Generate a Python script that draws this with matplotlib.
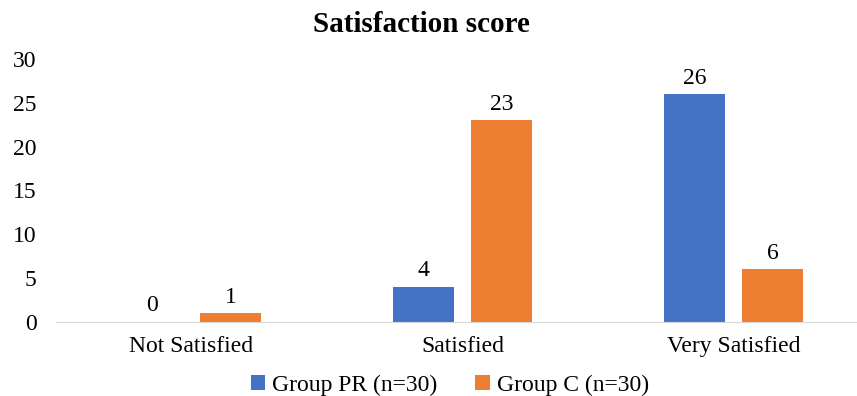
import numpy as np
import matplotlib.pyplot as plt

plt.rcParams['font.family'] = ['Liberation Serif', 'DejaVu Serif']

categories = ['Not Satisfied', 'Satisfied', 'Very Satisfied']
group_pr = [0, 4, 26]
group_c = [1, 23, 6]
series_names = ['Group PR (n=30)', 'Group C (n=30)']

fig = plt.figure(figsize=(8.57, 3.96), dpi=100)
ax = fig.add_axes([56 / 857, 74 / 396, 813 / 857, 263 / 396])

x = np.arange(len(categories))
w = 0.225
off = 0.144
b1 = ax.bar(x - off, group_pr, w, color='#4472C4', label=series_names[0])
b2 = ax.bar(x + off, group_c, w, color='#ED7D31', label=series_names[1])

for bars, vals in ((b1, group_pr), (b2, group_c)):
    for r, v in zip(bars, vals):
        ax.annotate(str(v), (r.get_x() + r.get_width() / 2, v), xytext=(0, 4),
                    textcoords='offset points', ha='center', va='bottom', fontsize=17)

ax.set_xlim(-0.5, 2.5)
ax.set_ylim(0, 30)
ax.set_yticks(range(0, 31, 5))
ax.set_xticks(x)
ax.set_xticklabels(categories)
ax.tick_params(length=0, labelsize=17)
ax.tick_params(axis='y', pad=14)
ax.tick_params(axis='x', pad=10)
for s in ['top', 'right', 'left']:
    ax.spines[s].set_visible(False)
ax.spines['bottom'].set_color('#d9d9d9')

fig.text(421 / 857, 1 - 24 / 396, 'Satisfaction score', ha='center', va='center',
         fontsize=21, fontweight='bold')
fig.legend(loc='center', bbox_to_anchor=(450 / 857, 1 - 385 / 396), ncol=2, frameon=False,
           fontsize=17, handlelength=0.6, handleheight=0.6, columnspacing=1.6, handletextpad=0.3)

fig.savefig('out.png', dpi=100)
